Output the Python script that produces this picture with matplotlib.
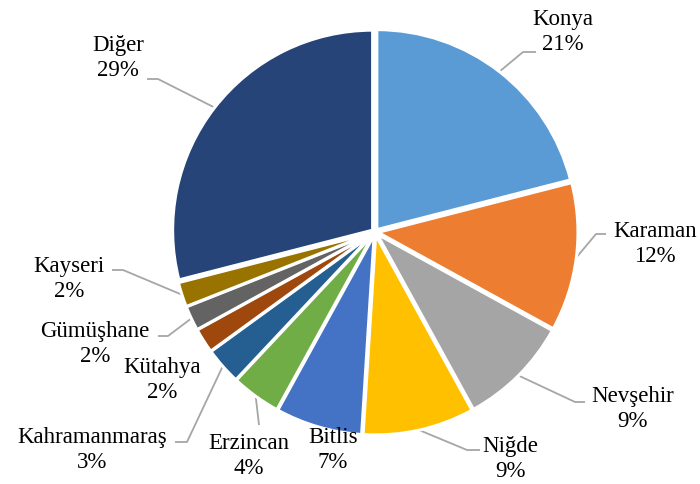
import numpy as np
import matplotlib
matplotlib.use("Agg")
import matplotlib.pyplot as plt

categories = ["Konya", "Karaman", "Nevşehir", "Niğde", "Bitlis", "Erzincan",
              "Kahramanmaraş", "Kütahya", "Gümüşhane", "Kayseri", "Diğer"]
values = [21, 12, 9, 9, 7, 4, 3, 2, 2, 2, 29]
pct_labels = ["21%", "12%", "9%", "9%", "7%", "4%", "3%", "2%", "2%", "2%", "29%"]
colors = ["#5B9BD5", "#ED7D31", "#A5A5A5", "#FFC000", "#4472C4", "#70AD47",
          "#255E91", "#9E480E", "#636363", "#997300", "#264478"]

# layout (pixel coordinates in a 700x484 canvas)
W, H = 700, 484
CX, CY, R = 375, 232, 200

def px(x, y):
    return ((x - CX) / R, (CY - y) / R)

# label block centers
label_pos = [(563, 32), (655, 244), (633, 409), (510, 459), (333, 450), (249, 456),
             (92, 450), (162, 380), (95, 344), (69, 279), (118, 58)]
# leader line: elbow point and end point (None = no leader)
leaders = [((523, 52), (536, 52)),
           ((596, 234), (606, 234)),
           ((575, 402), (585, 402)),
           ((467, 450), (480, 450)),
           None,
           ((259, 425), (259, 425)),
           ((187, 442), (175, 442)),
           None,
           ((168, 336), (158, 336)),
           ((123, 270), (112, 270)),
           ((158, 79), (147, 79))]

plt.rcParams['font.family'] = ['Liberation Serif', 'DejaVu Serif']

fig = plt.figure(figsize=(W / 100, H / 100), dpi=100)
ax = fig.add_axes([0, 0, 1, 1])

wedges, _ = ax.pie(values, colors=colors, startangle=90, counterclock=False,
                   radius=1.0, explode=[0.015] * len(values),
                   wedgeprops=dict(edgecolor="white", linewidth=2.2))
ax.set_xlim(px(0, 0)[0], px(W, 0)[0])
ax.set_ylim(px(0, H)[1], px(0, 0)[1])
ax.set_aspect("auto")
ax.axis("off")

for i, w in enumerate(wedges):
    mid = np.deg2rad((w.theta1 + w.theta2) / 2)
    cx, cy = w.center
    sx, sy = cx + 1.0 * np.cos(mid), cy + 1.0 * np.sin(mid)
    tx, ty = px(*label_pos[i])
    ax.text(tx, ty, f"{categories[i]}\n{pct_labels[i]}", ha="center", va="center",
            multialignment="center", fontsize=16.5, color="black", linespacing=1.3)
    if leaders[i] is not None:
        e1 = px(*leaders[i][0])
        e2 = px(*leaders[i][1])
        ax.plot([sx, e1[0], e2[0]], [sy, e1[1], e2[1]], color="#A6A6A6", lw=1.3,
                solid_capstyle="butt", zorder=0)

fig.savefig("out.png", dpi=100)
